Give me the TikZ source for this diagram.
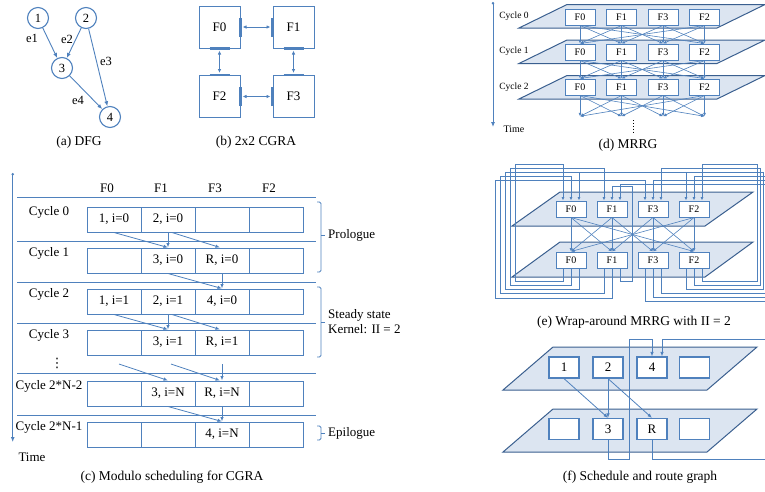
\documentclass[tikz,border=0pt]{standalone}
\usepackage{fontspec}
\setmainfont{Liberation Serif}
\newfontfamily\symfont{DejaVu Sans}
\usetikzlibrary{positioning}
\usetikzlibrary{arrows.meta}
\definecolor{cgra-blue}{HTML}{4F81BD}
\definecolor{cgra-dark}{HTML}{3A5F8F}
\colorlet{plane-edge}{cgra-dark}
\definecolor{plane-fill}{HTML}{DCE5F1}
\tikzset{
  wire/.style={draw=cgra-blue, line width=0.9pt, -{Latex[length=5pt,width=4pt]}},
  sched-wire/.style={draw=cgra-blue, line width=0.8pt, -{Latex[length=4.5pt,width=3.5pt]}},
  thin-wire/.style={draw=cgra-blue, line width=0.6pt, -{Latex[length=3.5pt,width=3pt]}},
  route/.style={draw=cgra-blue, line width=0.7pt, -{Latex[length=3.5pt,width=3pt]}},
  link/.style={draw=cgra-blue, line width=0.8pt, shorten <=2pt, shorten >=2pt, {Latex[length=4pt,width=3.5pt]}-{Latex[length=4pt,width=3.5pt]}},
  port/.style={draw=cgra-blue, line width=2.6pt},
  dfg-node/.style={circle, draw=cgra-blue, line width=1.1pt, minimum size=21pt, inner sep=0pt, font=\fontsize{12.5}{14}\selectfont},
  edge-label/.style={font=\fontsize{12.5}{14}\selectfont, inner sep=0pt},
  pe-box/.style={draw=cgra-blue, line width=1pt, minimum width=41pt, minimum height=42pt, inner sep=0pt, font=\fontsize{13}{15}\selectfont},
  fu-box/.style={draw=cgra-blue, fill=white, line width=1pt, minimum width=30pt, minimum height=16pt, inner sep=0pt, font=\fontsize{10}{12}\selectfont},
  op-box/.style={draw=cgra-blue, fill=white, line width=1.2pt, minimum width=30pt, minimum height=21pt, inner sep=0pt, font=\fontsize{13}{15}\selectfont},
  slot/.style={draw=cgra-blue, line width=1pt, minimum width=54pt, minimum height=25pt, inner sep=0pt, font=\fontsize{13}{15}\selectfont},
  plain-text/.style={font=\fontsize{13}{15}\selectfont, inner sep=0pt},
  small-text/.style={font=\fontsize{9.5}{11}\selectfont, inner sep=0pt},
  caption/.style={font=\fontsize{13.5}{16}\selectfont, inner sep=0pt},
  plane/.style={draw=plane-edge, fill=plane-fill, line width=1pt},
  rule-line/.style={draw=cgra-blue, line width=0.8pt},
  brace-line/.style={draw=cgra-blue, line width=0.9pt, rounded corners=1.5pt},
  time-axis/.style={draw=cgra-blue, line width=0.9pt, {Circle[length=2.5pt]}-{Latex[length=5pt,width=4pt]}},
}
% parallelogram: bottom y, height, left x, width, slant
\newcommand{\cgraplane}[5]{%
\draw[plane] (#3,#1) -- (#3+#4,#1) -- (#3+#4+#5,#1-#2) -- (#3+#5,#1-#2) -- cycle;
}
% one row of the schedule table
\newcommand{\schedrow}[7]{%
\node[plain-text] (lab-#1) at (49,#2-7) {#3};
\node[slot] (r#1-c0) at (114,#2) {#4};
\node[slot] (r#1-c1) at (168,#2) {#5};
\node[slot] (r#1-c2) at (222,#2) {#6};
\node[slot] (r#1-c3) at (276,#2) {#7};
}
\newcommand{\phasebrace}[3]{%
\draw[brace-line] (317,#1) -- (321,#1) -- (321,#2) -- (317,#2);
\draw[brace-line] (321,#3) -- (325,#3);
}
\begin{document}
\begin{tikzpicture}[x=1pt, y=-1pt]
\useasboundingbox (0,0) rectangle (765,491);
% (a) DFG
\node[dfg-node] (d1) at (38,18) {1};
\node[dfg-node] (d2) at (86,18) {2};
\node[dfg-node] (d3) at (62,68) {3};
\node[dfg-node] (d4) at (110,117) {4};
\draw[wire] (d1) -- (d3);
\draw[wire] (d2) -- (d3);
\draw[wire] (d2) -- (d4);
\draw[wire] (d3) -- (d4);
\node[edge-label] (e1) at (32,38) {e1};
\node[edge-label] (e2) at (67,39) {e2};
\node[edge-label] (e3) at (106,61) {e3};
\node[edge-label] (e4) at (78,100) {e4};
\node[caption] (cap-a) at (79,142) {(a) DFG};
% (b) 2x2 CGRA
\node[pe-box] (p0) at (219.5,27) {F0};
\node[pe-box] (p1) at (293.5,27) {F1};
\node[pe-box] (p2) at (219.5,96.5) {F2};
\node[pe-box] (p3) at (293.5,96.5) {F3};
\foreach \a/\b in {p0/p1, p2/p3} {
  \draw[port] ([yshift=-9.5pt]\a.east) -- ([yshift=9.5pt]\a.east);
  \draw[port] ([yshift=-9.5pt]\b.west) -- ([yshift=9.5pt]\b.west);
  \draw[link] (\a.east) -- (\b.west);
}
\foreach \a/\b in {p0/p2, p1/p3} {
  \draw[port] ([xshift=-10pt]\a.south) -- ([xshift=10pt]\a.south);
  \draw[port] ([xshift=-10pt]\b.north) -- ([xshift=10pt]\b.north);
  \draw[link] (\a.south) -- (\b.north);
}
\node[caption] (cap-b) at (256,142) {(b) 2x2 CGRA};
% (c) modulo schedule
\draw[time-axis] (12.7,173) -- (12.7,442);
\node[plain-text] (time-c) at (32,457) {Time};
\foreach \f/\x in {F0/107, F1/161, F3/215, F2/269}
  \node[plain-text] (head-\f) at (\x,188) {\f};
\foreach \y in {197,241,282,323,373,415}
  \draw[rule-line] (17,\y) -- (316,\y);
\schedrow{0}{219.5}{Cycle 0}{1, i=0}{2, i=0}{}{}
\schedrow{1}{260.5}{Cycle 1}{}{3, i=0}{R, i=0}{}
\schedrow{2}{301.5}{Cycle 2}{1, i=1}{2, i=1}{4, i=0}{}
\schedrow{3}{342.5}{Cycle 3}{}{3, i=1}{R, i=1}{}
\schedrow{4}{393.5}{Cycle 2*N-2}{}{3, i=N}{R, i=N}{}
\schedrow{5}{434.5}{Cycle 2*N-1}{}{}{4, i=N}{}
\node[plain-text] (more) at (57,363) {\symfont ⋮};
\foreach \r/\n in {0/1, 2/3} {
  \draw[sched-wire] (r\r-c0.south) -- (r\n-c1.north);
  \draw[sched-wire] (r\r-c1.south) -- (r\n-c1.north);
  \draw[sched-wire] ([xshift=4pt]r\r-c1.south) -- ([xshift=-2pt]r\n-c2.north);
}
\foreach \r/\n in {1/2, 4/5} {
  \draw[sched-wire] (r\r-c1.south) -- (r\n-c2.north);
  \draw[sched-wire] (r\r-c2.south) -- (r\n-c2.north);
}
\coordinate (gap0) at (119,364);
\coordinate (gap1) at (171,364);
\coordinate (gap2) at (222,364);
\draw[sched-wire] (gap0) -- (r4-c1.north);
\draw[sched-wire] (gap1) -- ([xshift=-2pt]r4-c2.north);
\draw[sched-wire] (gap2) -- (r4-c2.north);
\phasebrace{202}{272}{235}
\node[plain-text, anchor=west] (prologue) at (328,235) {Prologue};
\phasebrace{287}{357}{322}
\node[plain-text, anchor=west, align=left] (kernel) at (328,322) {Steady state\\Kernel: II = 2};
\phasebrace{426}{440}{433}
\node[plain-text, anchor=west] (epilogue) at (328,433) {Epilogue};
\node[caption] (cap-c) at (172,477) {(c) Modulo scheduling for CGRA};
% (d) MRRG
\draw[time-axis] (493,2) -- (493,127);
\node[small-text, font=\fontsize{10}{12}\selectfont] (time-d) at (514,129) {Time};
\foreach \k in {0,1,2} {
  \cgraplane{28+35.5*\k}{23.5}{519}{198}{48}
}
\foreach \k in {0,1,2} {
  \node[small-text] (cyc-\k) at (514,16+35.5*\k) {Cycle \k};
  \foreach \f [count=\p from 0] in {F0,F1,F3,F2}
    \node[fu-box] (m\k-\p) at (580+41.5*\p,17+35*\k) {\f};
}
\foreach \p in {0,...,3}
  \node[inner sep=0pt] (m3-\p) at (580+41.5*\p,117) {};
\foreach \k/\n in {0/1, 1/2, 2/3}
  \foreach \p in {0,...,3}
    \foreach \d in {-1,0,1} {
      \pgfmathtruncatemacro{\q}{mod(\p+\d+4,4)}
      \draw[thin-wire] (m\k-\p.south) -- (m\n-\q.north);
    }
\draw[dotted, line width=0.9pt] (633,120) -- (633,133);
\node[caption] (cap-d) at (628,145) {(d) MRRG};
% (e) wrap-around MRRG
\cgraplane{226}{34}{512}{193}{48}
\cgraplane{277}{35}{512}{193}{48}
\foreach \f [count=\p from 0] in {F0,F1,F3,F2} {
  \node[fu-box] (w0-\p) at (571+41*\p,209) {\f};
  \node[fu-box] (w1-\p) at (571+41*\p,260) {\f};
}
\foreach \p in {0,...,3}
  \foreach \d in {-1,0,1} {
    \pgfmathtruncatemacro{\q}{mod(\p+\d+4,4)}
    \draw[thin-wire] (w0-\p.south) -- (w1-\q.north);
  }
\begin{scope}
\clip (0,0) rectangle (765,491);
\foreach \p/\a/\q/\b/\r/\yt/\yb in {
    0/-8/0/-8/515/164/281, 0/0/1/-8/510/168/285, 0/8/3/-8/505/172/289,
    1/-8/0/0/500/176/293, 1/0/2/-8/495/180/298, 1/8/1/0/632.5/186/281,
    3/8/3/8/757/164/281, 3/0/2/8/760/168/285, 3/-8/0/8/763/172/289,
    2/8/3/0/766/176/293, 2/0/2/0/769/180/297, 2/-8/1/8/772/184/301} {
  \coordinate (w-src) at ([xshift=\a pt]w1-\p.south);
  \coordinate (w-dst) at ([xshift=\b pt]w0-\q.north);
  \draw[route] (w-src) |- (\r,\yb) |- (w-dst |- 0,\yt) -- (w-dst);
}
\end{scope}
\node[caption] (cap-e) at (634,322) {(e) Wrap-around MRRG with II = 2};
% (f) schedule and route graph
\cgraplane{390}{43}{503}{204}{50}
\cgraplane{452}{43}{503}{204}{50}
\node[op-box] (s-1) at (564,367.5) {1};
\node[op-box] (s-2) at (608,367.5) {2};
\node[op-box] (s-4) at (652,367.5) {4};
\node[op-box] (s-e0) at (694.5,367.5) {};
\node[op-box] (s-e1) at (564,429) {};
\node[op-box] (s-3) at (608,429) {3};
\node[op-box] (s-R) at (652,429) {R};
\node[op-box] (s-e2) at (694.5,429) {};
\draw[sched-wire] (s-1.south) -- (s-3.north);
\draw[sched-wire] (s-2.south) -- (s-3.north);
\draw[sched-wire] (s-2.south) -- (s-R.north);
\begin{scope}
\clip (0,0) rectangle (765,491);
\coordinate (s-4-in) at ([xshift=10pt]s-4.north);
\draw[sched-wire] (s-3.south) |- (629,459) |- (s-4.north |- 0,339) -- (s-4.north);
\draw[sched-wire] (s-R.south) |- (770,459) |- (s-4-in |- 0,339) -- (s-4-in);
\end{scope}
\node[caption] (cap-f) at (640,477) {(f) Schedule and route graph};
\end{tikzpicture}
\end{document}
